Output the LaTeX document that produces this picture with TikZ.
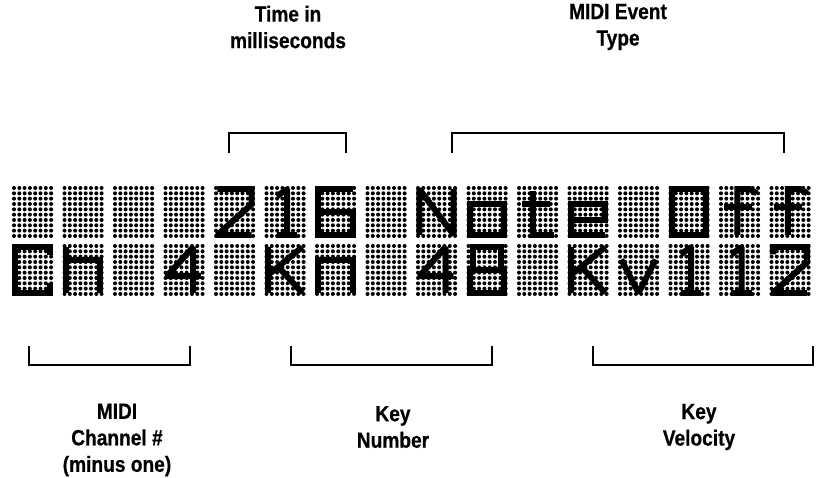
\documentclass[tikz,border=0pt]{standalone}
\usepackage{fontspec}
\setmainfont{Liberation Sans}[FakeStretch=0.87]
\newfontfamily\lblfont{Liberation Sans}[FakeStretch=0.87, BoldFeatures={FakeBold=0.6}]
\tikzset{
  lbl/.style={align=center, font=\lblfont\bfseries\fontsize{22}{26.5}\selectfont, inner sep=0pt},
  brk/.style={line width=1.3pt, line join=miter},
  gs/.style={line width=6pt, line join=miter, miter limit=1.6, line cap=square},
}
\newcommand\lcdx{12}
\newcommand\lcdpitch{50.5}
\newcommand\glyph[3]{\begin{scope}[shift={(\lcdx+\lcdpitch*#1,186+58*#2)}, x=41pt, y=-52pt]#3\end{scope}}
\begin{document}
\begin{tikzpicture}[x=1pt,y=-1pt]
\useasboundingbox (0,0) rectangle (817,478);
\fill[white] (0,0) rectangle (817,478);
% dot matrix
\foreach \r in {0,1}{
 \foreach \c in {0,...,15}{
  \foreach \i in {0,...,7}{
   \foreach \j in {0,...,9}{
    \fill (\lcdx+\lcdpitch*\c+2+5.3*\i, 186+58*\r+2+5.33*\j) circle (2.0);
   }}}}
% row 1: "    216 Note Off"
\glyph{4}{0}{\draw[gs] (0.08,0.06)--(0.92,0.06)--(0.92,0.35)--(0.08,0.94)--(0.92,0.94);}
\glyph{5}{0}{\draw[gs] (0.3,0.2)--(0.55,0.06)--(0.55,0.94); \draw[gs] (0.3,0.94)--(0.8,0.94);}
\glyph{6}{0}{\draw[gs] (0.92,0.06)--(0.08,0.06)--(0.08,0.94)--(0.92,0.94)--(0.92,0.5)--(0.08,0.5);}
\glyph{8}{0}{\draw[gs] (0.08,0.94)--(0.08,0.06)--(0.92,0.94)--(0.92,0.06);}
\glyph{9}{0}{\draw[gs] (0.08,0.35) rectangle (0.92,0.94);}
\glyph{10}{0}{\draw[gs] (0.4,0.1)--(0.4,0.94)--(0.9,0.94); \draw[gs] (0.12,0.35)--(0.8,0.35);}
\glyph{11}{0}{\draw[gs] (0.08,0.65)--(0.92,0.65)--(0.92,0.35)--(0.08,0.35)--(0.08,0.94)--(0.92,0.94);}
\glyph{13}{0}{\draw[gs] (0.08,0.06) rectangle (0.92,0.94);}
\glyph{14}{0}{\draw[gs] (0.92,0.14)--(0.75,0.06)--(0.45,0.06)--(0.45,0.94); \draw[gs] (0.12,0.4)--(0.8,0.4);}
\glyph{15}{0}{\draw[gs] (0.92,0.14)--(0.75,0.06)--(0.45,0.06)--(0.45,0.94); \draw[gs] (0.12,0.4)--(0.8,0.4);}
% row 2: "Ch 4 Kn 48 Kv112"
\glyph{0}{1}{\draw[gs] (0.92,0.22)--(0.92,0.06)--(0.08,0.06)--(0.08,0.94)--(0.92,0.94)--(0.92,0.75);}
\glyph{1}{1}{\draw[gs] (0.08,0.06)--(0.08,0.94); \draw[gs] (0.08,0.3)--(0.92,0.3)--(0.92,0.94);}
\glyph{3}{1}{\draw[gs] (0.72,0.94)--(0.72,0.06)--(0.08,0.62)--(0.92,0.62);}
\glyph{5}{1}{\draw[gs] (0.08,0.06)--(0.08,0.94); \draw[gs] (0.92,0.06)--(0.08,0.6); \draw[gs] (0.35,0.45)--(0.92,0.94);}
\glyph{6}{1}{\draw[gs] (0.08,0.94)--(0.08,0.3)--(0.92,0.3)--(0.92,0.94);}
\glyph{8}{1}{\draw[gs] (0.72,0.94)--(0.72,0.06)--(0.08,0.62)--(0.92,0.62);}
\glyph{9}{1}{\draw[gs] (0.15,0.06) rectangle (0.85,0.5); \draw[gs] (0.08,0.5) rectangle (0.92,0.94);}
\glyph{11}{1}{\draw[gs] (0.08,0.06)--(0.08,0.94); \draw[gs] (0.92,0.06)--(0.08,0.6); \draw[gs] (0.35,0.45)--(0.92,0.94);}
\glyph{12}{1}{\draw[gs] (0.08,0.3)--(0.5,0.94)--(0.92,0.3);}
\glyph{13}{1}{\draw[gs] (0.3,0.2)--(0.55,0.06)--(0.55,0.94); \draw[gs] (0.3,0.94)--(0.8,0.94);}
\glyph{14}{1}{\draw[gs] (0.3,0.2)--(0.55,0.06)--(0.55,0.94); \draw[gs] (0.3,0.94)--(0.8,0.94);}
\glyph{15}{1}{\draw[gs] (0.08,0.2)--(0.08,0.06)--(0.92,0.06)--(0.92,0.35)--(0.08,0.94)--(0.92,0.94);}
% labels
\node[lbl] (time) at (288,27) {Time in\\milliseconds};
\node[lbl] (event) at (618,27) {MIDI Event\\Type};
\node[lbl] (chan) at (117,440) {MIDI\\Channel \#\\(minus one)};
\node[lbl] (keyn) at (393,427) {Key\\Number};
\node[lbl] (keyv) at (699,427) {Key\\Velocity};
% brackets
\coordinate (t1a) at (229,153); \coordinate (t1b) at (346,133);
\coordinate (t2a) at (452,153); \coordinate (t2b) at (784,133);
\draw[brk] (t1a) |- (t1b) -- ++(0,20);
\draw[brk] (t2a) |- (t2b) -- ++(0,20);
\coordinate (b1a) at (29,346); \coordinate (b1b) at (190,365);
\coordinate (b2a) at (291,346); \coordinate (b2b) at (492,365);
\coordinate (b3a) at (593,346); \coordinate (b3b) at (813,365);
\draw[brk] (b1a) |- (b1b) -- ++(0,-19);
\draw[brk] (b2a) |- (b2b) -- ++(0,-19);
\draw[brk] (b3a) |- (b3b) -- ++(0,-19);
\end{tikzpicture}
\end{document}
